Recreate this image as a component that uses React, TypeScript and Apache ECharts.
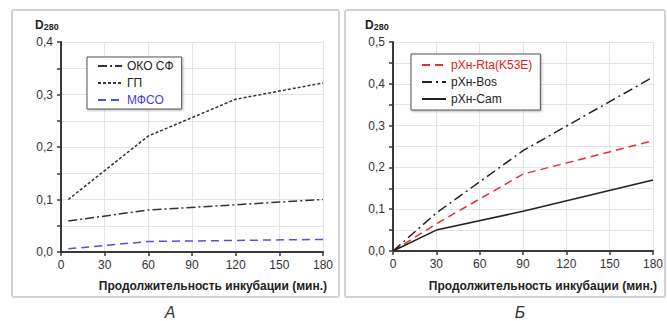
import React, { useEffect, useRef } from "react";
import * as echarts from "echarts";

const timeA = [5, 60, 120, 180];
const okoSF = [0.059, 0.08, 0.09, 0.1];
const gp = [0.1, 0.221, 0.291, 0.322];
const mfso = [0.006, 0.02, 0.022, 0.024];

const timeB = [0, 30, 90, 180];
const rta = [0, 0.065, 0.184, 0.264];
const bos = [0, 0.091, 0.24, 0.416];
const cam = [0, 0.05, 0.095, 0.17];

const xTicks = [0, 30, 60, 90, 120, 150, 180];
const xLabel = "Продолжительность инкубации (мин.)";

const pairs = (xs: number[], ys: number[]) => xs.map((x, i) => [x, ys[i]]);

const FONT = "Liberation Sans, Arial, sans-serif";

export default function App() {
  const ref = useRef<HTMLDivElement>(null);
  useEffect(() => {
    if (!ref.current) return;
    const chart = echarts.init(ref.current, undefined, { renderer: "svg" });
    const xAxisBase = (gridIndex: number) => ({
      type: "value" as const,
      gridIndex,
      min: xTicks[0],
      max: xTicks[xTicks.length - 1],
      interval: 30,
      axisLine: { show: true, lineStyle: { color: "#3a3a3a", width: 2 } },
      axisTick: { show: true, length: 4, lineStyle: { color: "#3a3a3a", width: 1.5 } },
      axisLabel: { color: "#333", fontFamily: FONT, fontSize: 12, margin: 7 },
      splitLine: { show: true, lineStyle: { color: "#e4e4e4", width: 1 } },
    });
    const yAxisBase = (gridIndex: number, max: number) => ({
      type: "value" as const,
      gridIndex,
      min: 0,
      max,
      interval: 0.1,
      axisLine: { show: true, lineStyle: { color: "#3a3a3a", width: 2 } },
      axisTick: { show: true, length: 4, lineStyle: { color: "#3a3a3a", width: 1.5 } },
      minorTick: { show: true, splitNumber: 2, length: 4, lineStyle: { color: "#3a3a3a", width: 1.5 } },
      minorSplitLine: { show: true, lineStyle: { color: "#e4e4e4", width: 1 } },
      axisLabel: {
        color: "#333",
        fontFamily: FONT,
        fontSize: 12,
        margin: 8,
        formatter: (v: number) => v.toFixed(1).replace(".", ","),
      },
      splitLine: { show: true, lineStyle: { color: "#e4e4e4", width: 1 } },
    });
    const legendBase = {
      orient: "vertical" as const,
      itemWidth: 24,
      itemHeight: 12,
      itemGap: 5,
      backgroundColor: "#fff",
      borderColor: "#555",
      borderWidth: 1,
      shadowColor: "rgba(0,0,0,0.3)",
      shadowBlur: 2,
      shadowOffsetX: 1,
      shadowOffsetY: 1,
      itemStyle: { opacity: 0 },
      textStyle: { color: "#222", fontFamily: FONT, fontSize: 12 },
    };
    chart.setOption({
      animation: false,
      backgroundColor: "#fff",
      grid: [
        { left: 61, right: 344, top: 42, bottom: 69 },
        { left: 393, right: 14, top: 42, bottom: 70 },
      ],
      xAxis: [xAxisBase(0), xAxisBase(1)],
      yAxis: [yAxisBase(0, 0.4), yAxisBase(1, 0.5)],
      legend: [
        {
          ...legendBase,
          left: 87,
          top: 57,
          padding: [3, 8, 3, 10],
          data: [
            { name: "ОКО СФ" },
            { name: "ГП" },
            { name: "МФСО", textStyle: { color: "#4040e0" } },
          ],
        },
        {
          ...legendBase,
          left: 411,
          top: 54,
          padding: [5, 8, 5, 10],
          data: [
            { name: "pXн-Rta(K53E)", textStyle: { color: "#e02020" } },
            { name: "pXн-Bos" },
            { name: "pXн-Cam" },
          ],
        },
      ],
      series: [
        {
          name: "ОКО СФ", type: "line", xAxisIndex: 0, yAxisIndex: 0, symbol: "none",
          data: pairs(timeA, okoSF),
          lineStyle: { color: "#333", width: 1.5, type: [9, 3, 2, 3] },
          itemStyle: { color: "#333" },
        },
        {
          name: "ГП", type: "line", xAxisIndex: 0, yAxisIndex: 0, symbol: "none",
          data: pairs(timeA, gp),
          lineStyle: { color: "#333", width: 1.5, type: [3, 2] },
          itemStyle: { color: "#333" },
        },
        {
          name: "МФСО", type: "line", xAxisIndex: 0, yAxisIndex: 0, symbol: "none",
          data: pairs(timeA, mfso),
          lineStyle: { color: "#5050e8", width: 1.5, type: [8, 5] },
          itemStyle: { color: "#5050e8" },
        },
        {
          name: "pXн-Rta(K53E)", type: "line", xAxisIndex: 1, yAxisIndex: 1, symbol: "none",
          data: pairs(timeB, rta),
          lineStyle: { color: "#e03030", width: 1.5, type: [8, 5] },
          itemStyle: { color: "#e03030" },
        },
        {
          name: "pXн-Bos", type: "line", xAxisIndex: 1, yAxisIndex: 1, symbol: "none",
          data: pairs(timeB, bos),
          lineStyle: { color: "#222", width: 1.5, type: [10, 4, 2, 4] },
          itemStyle: { color: "#222" },
        },
        {
          name: "pXн-Cam", type: "line", xAxisIndex: 1, yAxisIndex: 1, symbol: "none",
          data: pairs(timeB, cam),
          lineStyle: { color: "#222", width: 1.5, type: "solid" },
          itemStyle: { color: "#222" },
        },
      ],
      graphic: [
        {
          type: "rect", z: -10, silent: true,
          shape: { x: 12, y: 10, width: 327, height: 287, r: 2 },
          style: { fill: "none", stroke: "#d2d2d2", lineWidth: 2 },
        },
        {
          type: "rect", z: -10, silent: true,
          shape: { x: 345, y: 10, width: 320, height: 287, r: 2 },
          style: { fill: "none", stroke: "#d2d2d2", lineWidth: 2 },
        },
        ...[35, 365].map((x) => ({
          type: "text",
          x,
          y: 19,
          style: {
            text: "{a|D}{b|280}",
            rich: {
              a: { fontFamily: FONT, fontSize: 12, fontWeight: "bold", fill: "#222" },
              b: { fontFamily: FONT, fontSize: 9, fontWeight: "bold", fill: "#222", padding: [3, 0, 0, 0] },
            },
          },
        })),
        ...[327, 657].map((x) => ({
          type: "text",
          x,
          y: 280,
          style: {
            text: xLabel,
            align: "right",
            fontFamily: FONT,
            fontSize: 12,
            fontWeight: "bold",
            fill: "#222",
          },
        })),
        ...[
          { x: 170, t: "А" },
          { x: 520, t: "Б" },
        ].map((o) => ({
          type: "text",
          x: o.x,
          y: 312,
          style: {
            text: o.t,
            align: "center",
            verticalAlign: "middle",
            fontFamily: FONT,
            fontSize: 16,
            fontStyle: "italic",
            fill: "#333",
          },
        })),
      ],
    });
    return () => chart.dispose();
  }, []);
  return (
    <div
      ref={ref}
      style={{ position: "absolute", left: 0, top: 0, width: 667, height: 321, background: "#fff" }}
    />
  );
}
